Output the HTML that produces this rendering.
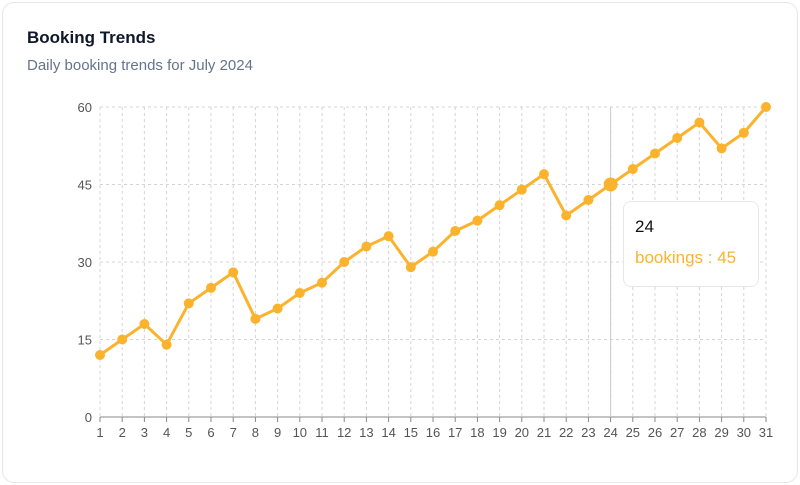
<!DOCTYPE html>
<html><head><meta charset="utf-8">
<style>
body{margin:0;background:#fff;font-family:"Liberation Sans",sans-serif;}
.card{position:absolute;left:2px;top:2px;width:794px;height:479px;border:1px solid #e5e7eb;border-radius:12px;background:#fff;}
h1{position:absolute;left:27px;top:28px;margin:0;font-size:17px;font-weight:bold;color:#0f172a;}
.sub{position:absolute;left:27px;top:57px;margin:0;font-size:15px;color:#64748b;}
.tip{position:absolute;left:623px;top:201px;width:134px;height:84px;border:1px solid #e5e7eb;border-radius:8px;background:rgba(255,255,255,0.95);}
.tip .t{position:absolute;left:11px;top:15px;font-size:17px;color:#111;}
.tip .v{position:absolute;left:11px;top:46px;font-size:17px;color:#fbb32e;}
svg{position:absolute;left:0;top:0;}
</style></head><body>
<div class="card"></div>
<h1>Booking Trends</h1>
<p class="sub">Daily booking trends for July 2024</p>
<svg id="chart" width="800" height="485"></svg>
<div class="tip"><div class="t">24</div><div class="v">bookings : 45</div></div>
<script>
const days=[1,2,3,4,5,6,7,8,9,10,11,12,13,14,15,16,17,18,19,20,21,22,23,24,25,26,27,28,29,30,31];
const bookings=[12,15,18,14,22,25,28,19,21,24,26,30,33,35,29,32,36,38,41,44,47,39,42,45,48,51,54,57,52,55,60];
const yTicks=[0,15,30,45,60];
const activeDay=24;
const NS="http://www.w3.org/2000/svg";
const svg=document.getElementById('chart');
const x0=100,x1=766,yb=417,yt=107;
const xs=d=>x0+(d-days[0])/(days[days.length-1]-days[0])*(x1-x0);
const ys=v=>yb-(v-0)/(60-0)*(yb-yt);
function mk(t,a){const e=document.createElementNS(NS,t);for(const k in a)e.setAttribute(k,a[k]);svg.appendChild(e);return e;}
yTicks.forEach(v=>{
 const g=mk('line',{x1:x0,x2:x1,y1:ys(v),y2:ys(v),stroke:'#d4d4d4','stroke-dasharray':'3 3'});
 
 
 const t=mk('text',{x:92,y:ys(v)+5,'text-anchor':'end','font-size':13,fill:'#555','font-family':'Liberation Sans, sans-serif'});
 t.textContent=v;
 
 
});
days.forEach(d=>{
 const g=mk('line',{x1:xs(d),x2:xs(d),y1:yt,y2:yb,stroke:'#d4d4d4','stroke-dasharray':'3 3'});
 
 
 const tk=mk('line',{x1:xs(d),x2:xs(d),y1:yb,y2:yb+5,stroke:'#888'});
 
 
 const t=mk('text',{x:xs(d),y:yb+20,'text-anchor':'middle','font-size':13,fill:'#555','font-family':'Liberation Sans, sans-serif'});
 t.textContent=d;
 
 
});
const ax=mk('line',{x1:x0,x2:x1,y1:yb,y2:yb,stroke:'#888'});


const cur=mk('line',{x1:xs(activeDay),x2:xs(activeDay),y1:yt,y2:yb,stroke:'#ccc'});


const path=mk('path',{d:days.map((d,i)=>(i?'L':'M')+xs(d)+' '+ys(bookings[i])).join(' '),fill:'none',stroke:'#fbb32e','stroke-width':3,'stroke-linejoin':'round'});


days.forEach((d,i)=>{
 const c=mk('circle',{cx:xs(d),cy:ys(bookings[i]),r:d===activeDay?7:5,fill:'#fbb32e'});
 
 
});
</script>
</body></html>
